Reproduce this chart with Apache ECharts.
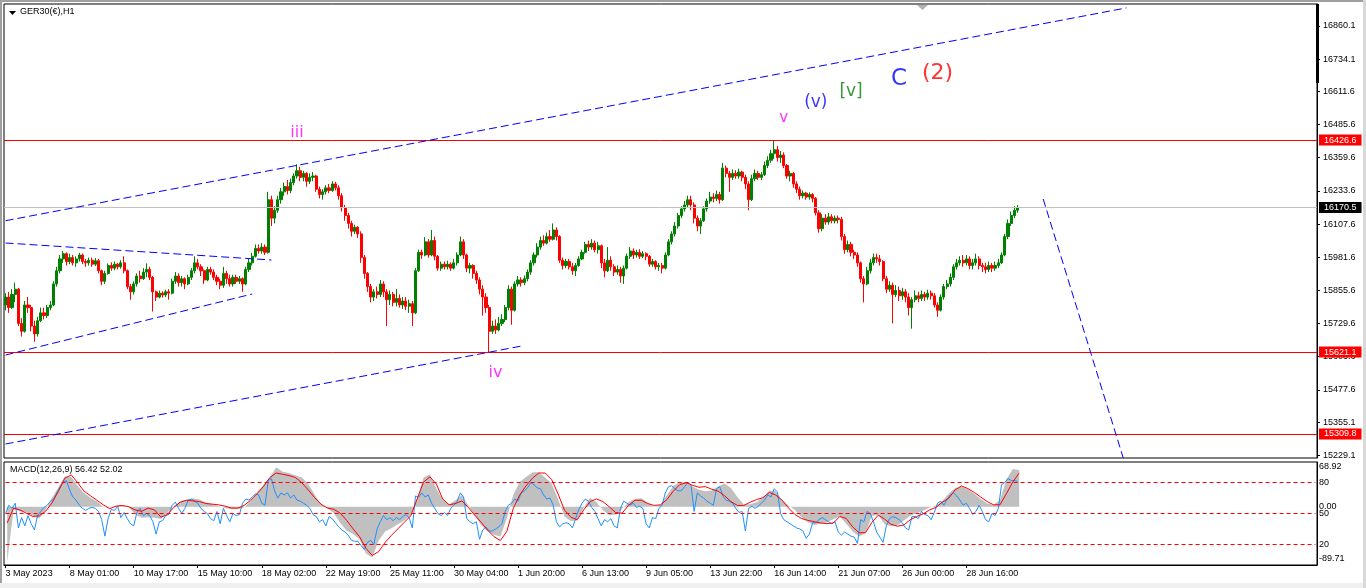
<!DOCTYPE html>
<html><head><meta charset="utf-8">
<script src="https://cdn.jsdelivr.net/npm/echarts@6/dist/echarts.min.js"></script>
<style>html,body{margin:0;padding:0;background:#fff;overflow:hidden}#c{width:1366px;height:588px}</style>
</head><body><div id="c"></div>
<script>
// ---- data ----
const timeLabels = ['3 May 2023','8 May 01:00','10 May 17:00','15 May 10:00','18 May 02:00','22 May 19:00','25 May 11:00','30 May 04:00','1 Jun 20:00','6 Jun 13:00','9 Jun 05:00','13 Jun 22:00','16 Jun 14:00','21 Jun 07:00','26 Jun 00:00','28 Jun 16:00'];
const priceTicks = [16860.1,16734.1,16611.6,16485.6,16359.6,16233.6,16107.6,15981.6,15855.6,15729.6,15603.6,15477.6,15355.1,15229.1];
const macdTicks = [68.92, 0, -89.71];
const oscTicks = [80, 50, 20];
const oscLevels = [80, 50, 20];
const redLevels = [16426.6, 15621.1, 15309.8];
const lastPrice = 16170.5;
// candles: [open, close, low, high]
const candles = [
[15800,15830,15780,15845],[15830,15790,15770,15850],[15790,15840,15785,15860],[15840,15860,15810,15885],[15860,15730,15720,15865],
[15730,15700,15680,15750],[15700,15800,15695,15815],[15800,15790,15770,15830],[15790,15720,15700,15800],[15720,15690,15660,15740],
[15690,15740,15680,15755],[15740,15770,15735,15790],[15770,15760,15745,15790],[15760,15790,15750,15800],[15790,15800,15780,15815],
[15800,15880,15795,15890],[15880,15930,15870,15945],[15930,15975,15920,15990],[15975,15995,15960,16005],[15995,15965,15950,16000],
[15965,15980,15955,15995],[15980,15960,15950,15990],[15960,15975,15945,15985],[15975,15990,15965,15998],[15990,15965,15955,15995],
[15965,15960,15945,15975],[15960,15970,15950,15980],[15970,15955,15945,15980],[15955,15968,15948,15978],[15968,15930,15920,15975],
[15930,15890,15875,15935],[15890,15920,15880,15930],[15920,15950,15915,15958],[15950,15940,15930,15962],[15940,15955,15932,15965],
[15955,15945,15935,15960],[15945,15960,15938,15970],[15960,15930,15920,15985],[15930,15870,15860,15935],[15870,15850,15820,15880],
[15850,15880,15840,15890],[15880,15910,15870,15920],[15910,15900,15885,15930],[15900,15925,15895,15940],[15925,15935,15905,15958],
[15935,15905,15895,15945],[15905,15850,15775,15910],[15850,15830,15815,15855],[15830,15845,15825,15855],[15845,15838,15828,15852],
[15838,15850,15830,15858],[15850,15845,15820,15860],[15845,15890,15840,15900],[15890,15910,15880,15925],[15910,15885,15870,15920],
[15885,15900,15870,15910],[15900,15880,15860,15905],[15880,15905,15875,15915],[15905,15930,15895,15940],[15930,15960,15920,15985],
[15960,15945,15935,15975],[15945,15930,15910,15955],[15930,15895,15880,15935],[15895,15935,15890,15945],[15935,15925,15915,15945],
[15925,15905,15895,15935],[15905,15890,15875,15915],[15890,15875,15860,15900],[15875,15920,15865,15945],[15920,15900,15880,15930],
[15900,15880,15870,15915],[15880,15905,15870,15915],[15905,15890,15880,15915],[15890,15900,15880,15910],[15900,15880,15850,15905],
[15880,15935,15875,15945],[15935,15960,15925,15975],[15960,15985,15950,15998],[15985,16015,15980,16030],[16015,16005,15995,16030],
[16005,16020,15995,16035],[16020,16000,15990,16030],[16000,16200,15995,16230],[16200,16130,16100,16215],[16130,16160,16110,16175],
[16160,16200,16150,16215],[16200,16230,16185,16245],[16230,16250,16215,16265],[16250,16235,16220,16275],[16235,16265,16225,16280],
[16265,16290,16255,16300],[16290,16310,16280,16335],[16310,16285,16270,16325],[16285,16300,16270,16310],[16300,16270,16250,16305],
[16270,16285,16260,16300],[16285,16290,16270,16305],[16290,16240,16230,16295],[16240,16220,16205,16250],[16220,16230,16200,16240],
[16230,16245,16220,16255],[16245,16235,16225,16260],[16235,16260,16230,16270],[16260,16245,16235,16268],[16245,16215,16200,16255],
[16215,16170,16155,16225],[16170,16140,16120,16180],[16140,16110,16090,16150],[16110,16080,16060,16120],[16080,16095,16070,16105],
[16095,16070,16055,16100],[16070,15980,15960,16080],[15980,15920,15900,15990],[15920,15870,15850,15925],[15870,15830,15810,15880],
[15830,15850,15815,15860],[15850,15840,15825,15870],[15840,15880,15830,15895],[15880,15850,15830,15890],[15850,15820,15720,15860],
[15820,15840,15800,15855],[15840,15810,15795,15850],[15810,15825,15795,15860],[15825,15800,15790,15840],[15800,15815,15785,15830],
[15815,15795,15780,15830],[15795,15805,15770,15820],[15805,15770,15720,15815],[15770,15930,15765,15940],[15930,16000,15925,16010],
[16000,15990,15975,16010],[15990,16040,15985,16058],[16040,15990,15980,16050],[15990,16045,15985,16085],[16045,15985,15970,16060],
[15985,15940,15930,15990],[15940,15955,15930,15965],[15955,15945,15935,15965],[15945,15955,15935,15968],[15955,15940,15930,15962],
[15940,15960,15935,15975],[15960,15990,15950,16000],[15990,16040,15985,16060],[16040,15990,15975,16050],[15990,15940,15925,15995],
[15940,15950,15920,15960],[15950,15920,15900,15955],[15920,15895,15880,15930],[15895,15860,15840,15905],[15860,15830,15760,15875],
[15830,15790,15770,15845],[15790,15700,15620,15800],[15700,15720,15690,15740],[15720,15705,15690,15745],[15705,15730,15700,15755],
[15730,15745,15720,15765],[15745,15790,15735,15800],[15790,15860,15780,15875],[15860,15780,15725,15870],[15780,15880,15775,15890],
[15880,15895,15870,15910],[15895,15885,15870,15905],[15885,15900,15875,15912],[15900,15925,15890,15935],[15925,15960,15915,15970],
[15960,15990,15950,16000],[15990,16020,15980,16035],[16020,16045,16010,16060],[16045,16035,16025,16065],[16035,16060,16030,16075],
[16060,16050,16040,16085],[16050,16085,16045,16110],[16085,16060,16045,16095],[16060,15970,15960,16065],[15970,15950,15935,15980],
[15950,15965,15940,15975],[15965,15945,15935,15975],[15945,15930,15915,15960],[15930,15950,15910,15960],[15950,15975,15945,15985],
[15975,16000,15970,16010],[16000,16030,15995,16040],[16030,16020,16005,16045],[16020,16035,16010,16050],[16035,16010,16000,16045],
[16010,16025,15995,16040],[16025,15960,15940,16030],[15960,15930,15905,15975],[15930,15970,15925,16020],[15970,15945,15930,15985],
[15945,15925,15910,15955],[15925,15935,15915,15950],[15935,15910,15885,15945],[15910,15940,15880,15950],[15940,15985,15935,15995],
[15985,16005,15975,16020],[16005,15990,15975,16015],[15990,16000,15980,16010],[16000,15985,15975,16012],[15985,15995,15978,16005],
[15995,15985,15970,16000],[15985,15955,15945,15990],[15955,15965,15945,15975],[15965,15945,15935,15970],[15945,15950,15930,15960],
[15950,15940,15920,15960],[15940,15990,15935,16000],[15990,16040,15985,16050],[16040,16070,16030,16080],[16070,16100,16060,16115],
[16100,16140,16090,16150],[16140,16165,16130,16175],[16165,16180,16155,16195],[16180,16200,16170,16215],[16200,16180,16160,16215],
[16180,16130,16110,16190],[16130,16100,16080,16140],[16100,16120,16070,16130],[16120,16165,16115,16175],[16165,16195,16155,16205],
[16195,16210,16185,16230],[16210,16205,16190,16225],[16205,16220,16195,16235],[16220,16200,16185,16230],[16200,16320,16195,16340],
[16320,16300,16285,16330],[16300,16285,16230,16310],[16285,16300,16275,16315],[16300,16290,16280,16312],[16290,16305,16280,16318],
[16305,16285,16270,16310],[16285,16260,16240,16295],[16260,16200,16160,16270],[16200,16280,16195,16295],[16280,16300,16270,16315],
[16300,16285,16275,16310],[16285,16295,16275,16305],[16295,16330,16290,16345],[16330,16350,16320,16365],[16350,16375,16340,16390],
[16375,16390,16355,16426],[16390,16360,16345,16405],[16360,16370,16340,16385],[16370,16330,16320,16380],[16330,16290,16280,16335],
[16290,16300,16270,16310],[16300,16260,16245,16305],[16260,16240,16225,16270],[16240,16215,16200,16250],[16215,16225,16205,16235],
[16225,16210,16200,16230],[16210,16220,16200,16228],[16220,16205,16190,16225],[16205,16150,16140,16210],[16150,16090,16075,16160],
[16090,16130,16080,16145],[16130,16115,16105,16145],[16115,16135,16105,16150],[16135,16120,16110,16145],[16120,16130,16110,16140],
[16130,16125,16110,16140],[16125,16060,16045,16135],[16060,16010,15995,16070],[16010,16030,16000,16045],[16030,16000,15985,16040],
[16000,15990,15975,16010],[15990,15960,15945,16000],[15960,15900,15885,15965],[15900,15880,15810,15910],[15880,15930,15875,15945],
[15930,15960,15920,15975],[15960,15980,15950,15995],[15980,15975,15960,15995],[15975,15965,15950,15990],[15965,15900,15890,15970],
[15900,15860,15845,15910],[15860,15875,15850,15890],[15875,15840,15730,15885],[15840,15855,15830,15875],[15855,15835,15815,15870],
[15835,15850,15820,15865],[15850,15830,15810,15860],[15830,15790,15760,15845],[15790,15820,15710,15830],[15820,15835,15810,15855],
[15835,15825,15810,15850],[15825,15840,15815,15855],[15840,15830,15815,15850],[15830,15845,15820,15858],[15845,15835,15820,15855],
[15835,15800,15790,15845],[15800,15780,15755,15810],[15780,15830,15775,15840],[15830,15870,15820,15880],[15870,15880,15860,15895],
[15880,15905,15870,15920],[15905,15945,15895,15955],[15945,15960,15935,15975],[15960,15970,15950,15985],[15970,15960,15945,15990],
[15960,15975,15950,15990],[15975,15950,15935,15985],[15950,15960,15935,15975],[15960,15975,15950,15995],[15975,15950,15935,15985],
[15950,15945,15925,15960],[15945,15935,15920,15960],[15935,15950,15925,15965],[15950,15940,15925,15960],[15940,15950,15930,15965],
[15950,15960,15940,15975],[15960,15990,15955,16000],[15990,16060,15985,16070],[16060,16110,16050,16125],[16110,16140,16100,16155],
[16140,16160,16130,16175],[16160,16170.5,16150,16180]
];
// MACD main (histogram) and signal, sampled every 2 bars
const macdMain = [-85,-4,-7,-8,-14,-18,-5,14,30,47,46,32,21,14,8,0,-1,1,2,-1,-12,-17,-16,-17,-19,-9,1,8,11,13,11,7,4,1,-2,-4,-4,-1,9,22,34,45,61,54,52,48,45,35,19,4,-2,-10,-25,-37,-42,-50,-72,-78,-52,-38,-33,-27,-21,-13,12,45,50,28,11,4,10,18,2,-14,-28,-38,-43,-46,-18,18,38,46,53,53,45,36,12,-15,-22,-21,-2,14,7,-5,-13,-12,-3,7,12,13,6,0,3,18,32,38,37,31,26,24,25,31,36,29,15,4,4,7,15,25,24,10,2,-5,-16,-24,-28,-26,-24,-19,-15,-26,-38,-46,-41,-14,-13,-27,-30,-29,-21,-14,-10,-6,-1,2,9,20,29,31,27,20,12,5,3,10,42,58,56.42];
const macdSignal = [-25,-2,-5,-10,-15,-14,-7,6,24,44,49,37,24,17,10,3,-3,1,2,0,-5,-7,-2,-5,-16,-12,-1,7,10,9,8,5,4,3,1,-2,-2,2,10,20,31,45,52,50,48,45,37,26,14,4,-2,-4,-10,-21,-34,-46,-64,-75,-69,-55,-44,-34,-24,-14,12,38,46,35,12,3,5,9,-1,-13,-24,-36,-46,-52,-38,-3,18,32,44,52,52,42,20,-5,-16,-20,-5,8,12,8,0,-9,-10,2,10,10,5,2,3,11,24,34,37,33,30,31,27,24,17,8,2,2,7,11,14,22,18,10,-2,-12,-18,-21,-23,-25,-26,-25,-15,-18,-31,-40,-40,-24,-13,-19,-27,-30,-28,-20,-15,-11,-5,-1,7,13,26,32,28,22,15,8,3,3,20,38,52.02];
// blue oscillator (0..100), one value per bar
const osc = [50,58,55,60,36,46,38,48,40,34,48,52,56,58,62,64,70,76,80,82,73,66,63,58,55,53,55,56,55,52,44,28,45,54,53,57,46,51,45,40,38,51,55,48,50,48,42,30,42,43,48,49,58,61,55,50,55,63,64,62,60,55,52,50,45,43,52,40,55,48,42,50,48,49,60,64,63,66,69,68,60,58,82,84,72,65,70,68,70,65,68,63,62,60,58,55,49,47,42,44,38,47,45,41,37,34,32,29,24,23,23,19,15,22,24,20,35,42,48,44,46,43,46,44,47,49,46,36,67,66,70,66,68,60,55,50,48,51,48,55,58,62,70,66,45,42,40,42,25,34,37,33,33,35,37,40,52,58,60,64,62,70,72,75,80,78,75,74,68,64,65,58,42,37,40,41,40,36,45,54,60,64,62,56,52,45,38,44,42,45,38,36,55,62,60,58,60,56,57,55,40,36,46,45,55,58,70,76,77,74,72,72,76,80,78,52,70,67,65,62,60,58,74,76,67,63,62,60,55,51,52,33,55,57,55,57,60,63,68,66,74,71,50,44,42,40,38,36,35,33,26,30,41,41,44,46,44,42,40,42,32,29,32,30,28,27,21,44,42,52,50,42,32,27,22,38,45,47,46,44,41,36,34,47,47,45,52,49,48,44,51,60,62,58,64,68,70,67,63,58,60,55,49,52,58,52,44,42,50,48,55,78,80,84,82,82,81];
// trend lines: [[barIndex, price], [barIndex, price]]
const trendLines = [
  [[0,16120.2],[350,16928.9]],
  [[0,15271.7],[161,15643.7]],
  [[0,15609.9],[77,15841.7]],
  [[0,16035.5],[83,15970.9]],
  [[324,16202.7],[349,15218.5]]
];
// wave labels anchored at [barIndex, price]
const waveText = ['iii','iv','v','(v)','[v]','C','(2)'];
const waveAt = [[91,16453.5],[153,15541.5],[243,16510.5],[253,16567.5],[264,16609.3],[279,16658.7],[291,16681.5]];

// ---- styles ----
const FONT = 'Liberation Sans, Arial, sans-serif';
const waveColor = ['#FF00FF','#FF00FF','#FF00FF','#0000FF','#008000','#0000FF','#FF0000'];
const waveSize = [16,16,15,17,17,23,22];
const N = 410, NM = 205, LABEL_STEP = 20;
const cats = Array.from({length:N},(_,k)=> (k%LABEL_STEP===0 && k/LABEL_STEP<timeLabels.length) ? timeLabels[k/LABEL_STEP] : '');
const catsM = Array.from({length:NM},(_,k)=>String(k));
const showLbl = (idx)=> idx%LABEL_STEP===0 && idx/LABEL_STEP<timeLabels.length;

const lvlLabel = (txt,bg)=>({show:true,position:'end',distance:2,formatter:txt,backgroundColor:bg,color:'#fff',
  fontSize:9,fontFamily:FONT,padding:[1,5,0,5],lineHeight:10});
const markData = [];
redLevels.forEach(v=>markData.push({yAxis:v,lineStyle:{color:'#FF0000',width:1,type:'solid'},label:lvlLabel(v.toFixed(1),'#FF0000')}));
markData.push({yAxis:lastPrice,lineStyle:{color:'#C0C0C0',width:1,type:'solid'},label:lvlLabel(lastPrice.toFixed(1),'#000000')});
trendLines.forEach(t=>markData.push([
  {coord:t[0],lineStyle:{color:'#0000FF',width:1,type:[8,4]},label:{show:false}},
  {coord:t[1]}
]));
const lblBase = {fontSize:9,fontFamily:FONT,color:'#000'};
const macdFmt = v => {
  const s = Number(v).toFixed(2);
  if (v >= macdTicks[0]) return '{t|'+s+'}';
  if (v <= macdTicks[2]) return '{b|'+s+'}';
  return '{m|'+s+'}';
};
const levelLines = oscLevels.map(v=>[
  {coord:[0,v],lineStyle:{color:'#FF0000',width:1,type:[4,3]},label:{show:false}},
  {coord:[N-1,v]}
]);

const chart = echarts.init(document.getElementById('c'),null,{renderer:'canvas'});
chart.setOption({
  animation:false,
  backgroundColor:'#ffffff',
  grid:[
    {left:4,right:49,top:4,height:454,show:true,borderColor:'#000',borderWidth:1,backgroundColor:'#fff'},
    {left:4,right:49,top:462,height:103,show:true,borderColor:'#000',borderWidth:1,backgroundColor:'#fff'}
  ],
  xAxis:[
    {type:'category',gridIndex:0,data:cats,axisLine:{show:false},axisTick:{show:false},axisLabel:{show:false},splitLine:{show:false}},
    {type:'category',gridIndex:1,data:cats,position:'bottom',axisLine:{show:true,onZero:false,lineStyle:{color:'#000'}},
      axisTick:{show:true,interval:showLbl,alignWithLabel:true,length:3,lineStyle:{color:'#000'}},
      axisLabel:{show:true,interval:showLbl,align:'left',margin:4,color:'#000',fontSize:9,fontFamily:FONT},splitLine:{show:false}},
    {type:'category',gridIndex:1,data:catsM,show:false,axisLine:{show:false,onZero:false},axisTick:{show:false},axisLabel:{show:false},splitLine:{show:false}}
  ],
  yAxis:[
    {type:'value',gridIndex:0,position:'right',min:15218.5,max:16943.7,splitLine:{show:false},
      axisLine:{show:true,lineStyle:{color:'#000'}},
      axisTick:{show:true,length:3,customValues:priceTicks,lineStyle:{color:'#000'}},
      axisLabel:{show:true,customValues:priceTicks,formatter:v=>Number(v).toFixed(1),margin:6,color:'#000',fontSize:9,fontFamily:FONT}},
    {type:'value',gridIndex:1,position:'right',min:-89.71,max:68.92,splitLine:{show:false},
      axisLine:{show:true,lineStyle:{color:'#000'}},
      axisTick:{show:false},
      axisLabel:{show:true,customValues:macdTicks,showMaxLabel:true,showMinLabel:true,formatter:macdFmt,margin:2,
        rich:{t:Object.assign({padding:[10,0,0,0]},lblBase),b:Object.assign({padding:[0,0,13,0]},lblBase),m:Object.assign({},lblBase)}}},
    {type:'value',gridIndex:1,position:'right',min:0,max:100,splitLine:{show:false},axisLine:{show:false},
      axisTick:{show:false},
      axisLabel:{show:true,customValues:oscTicks,formatter:v=>String(v),margin:2,color:'#000',fontSize:9,fontFamily:FONT}}
  ],
  series:[
    {type:'candlestick',name:'GER30',xAxisIndex:0,yAxisIndex:0,data:candles,barWidth:2.6,
      itemStyle:{color:'#008000',color0:'#FF0000',borderColor:'#008000',borderColor0:'#FF0000',borderWidth:1},
      markLine:{silent:true,symbol:'none',animation:false,data:markData}},
    {type:'scatter',name:'waves',xAxisIndex:0,yAxisIndex:0,symbolSize:0,silent:true,z:5,
      data:waveAt.map((p,k)=>({value:p,label:{show:true,position:'inside',formatter:waveText[k],color:waveColor[k],
        fontSize:waveSize[k],fontFamily:'DejaVu Sans, Verdana, sans-serif'}}))},
    {type:'line',name:'MACD',xAxisIndex:2,yAxisIndex:1,data:macdMain,symbol:'none',silent:true,z:1,
      lineStyle:{width:0,color:'#C0C0C0'},areaStyle:{color:'#C0C0C0',opacity:1,origin:0}},
    {type:'line',name:'osc',xAxisIndex:1,yAxisIndex:2,data:osc,symbol:'none',silent:true,z:3,
      lineStyle:{width:1,color:'#1E90FF'},
      markLine:{silent:true,symbol:'none',label:{show:false},data:levelLines}},
    {type:'line',name:'Signal',xAxisIndex:2,yAxisIndex:1,data:macdSignal,symbol:'none',silent:true,z:4,
      lineStyle:{width:1,color:'#FF0000'}}
  ],
  graphic:[
    {type:'rect',shape:{x:0,y:0,width:1366,height:2},style:{fill:'#A0A0A0'},silent:true},
    {type:'rect',shape:{x:0,y:0,width:2,height:588},style:{fill:'#A0A0A0'},silent:true},
    {type:'rect',shape:{x:0,y:583,width:1366,height:5},style:{fill:'#F0F0F0'},silent:true},
    {type:'rect',shape:{x:1363,y:0,width:3,height:588},style:{fill:'#D8D8D8'},silent:true},
    {type:'rect',shape:{x:1316,y:4,width:3,height:79},style:{fill:'#000'},silent:true},
    {type:'polygon',shape:{points:[[917,5],[928,5],[922.5,10]]},style:{fill:'#B0B0B0'},silent:true},
    {type:'polygon',shape:{points:[[9,11],[16,11],[12.5,15]]},style:{fill:'#000'},silent:true},
    {type:'text',x:20,y:12,style:{text:'GER30(€),H1',fill:'#000',font:'9px '+FONT,textVerticalAlign:'middle'},silent:true},
    {type:'text',x:10,y:470,style:{text:'MACD(12,26,9) 56.42 52.02',fill:'#000',font:'9px '+FONT,textVerticalAlign:'middle'},silent:true}
  ]
});
</script></body></html>
